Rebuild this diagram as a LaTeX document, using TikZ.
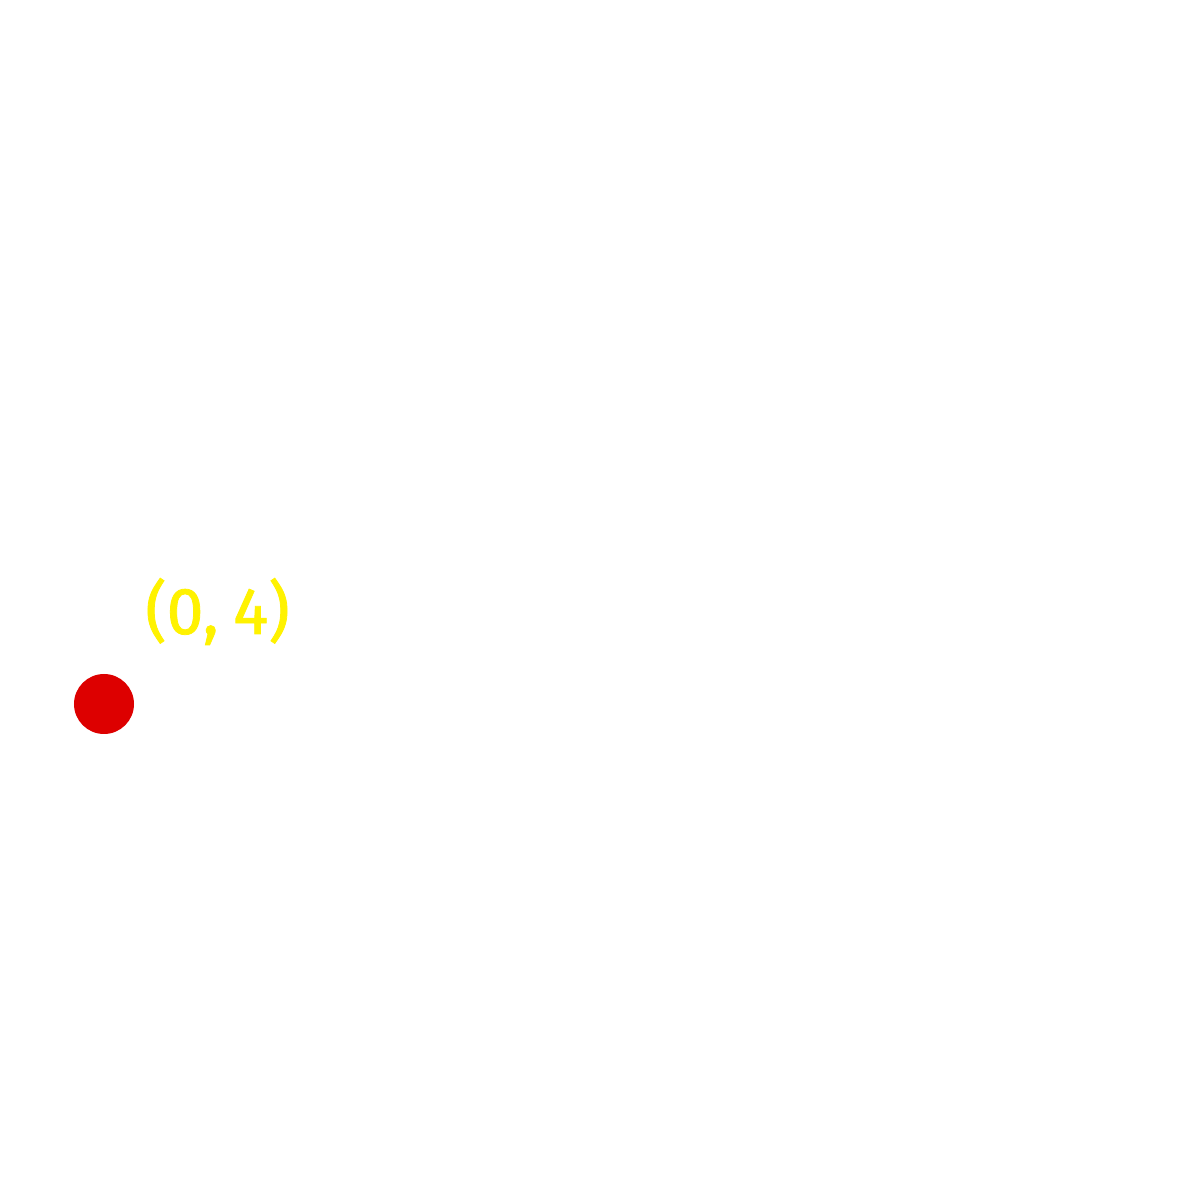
\documentclass[tikz,border=0pt]{standalone}
\usepackage{fontspec}
\setmainfont{Fira Sans}
\newfontfamily\labfont{Fira Sans}[FakeBold=1.2]
\definecolor{dotred}{RGB}{221,0,0}
\definecolor{labyellow}{RGB}{255,242,0}
\begin{document}
\begin{tikzpicture}[
  dotstyle/.style={circle, fill=dotred, inner sep=0pt, minimum size=0.6cm},
  labstyle/.style={text=labyellow, inner sep=0pt, font=\labfont\fontsize{18.8}{22}\selectfont}
]
\useasboundingbox (0,0) rectangle (12,12);
\fill[white] (0,0) rectangle (12,12);
\node[dotstyle] (p) at (1.04,4.96) {};
\node[labstyle, anchor=center] (lab) at (2.175,5.885) {(0,\hspace{0.22em}4)};
\end{tikzpicture}
\end{document}
